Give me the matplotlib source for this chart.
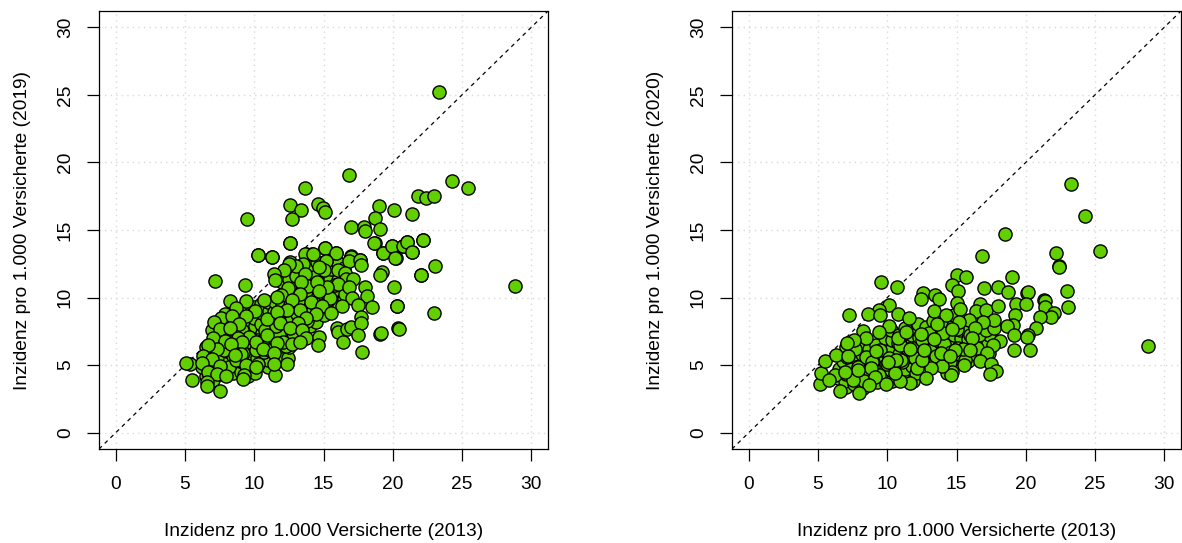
import matplotlib
matplotlib.use("Agg")
import matplotlib.pyplot as plt

plt.rcParams['font.family'] = ['Liberation Sans', 'DejaVu Sans']

tick_values = [0, 5, 10, 15, 20, 25, 30]
x_title = "Inzidenz pro 1.000 Versicherte (2013)"
y_title_left = "Inzidenz pro 1.000 Versicherte (2019)"
y_title_right = "Inzidenz pro 1.000 Versicherte (2020)"

# left panel: cloud
x13_a_cloud = [6.52,6.47,6.55,7.03,6.96,7.08,7.02,6.94,7.54,7.48,7.45,7.57,7.52,8.03,7.97,8.06,7.94,8.02,8.05,
 8.47,8.53,8.46,8.55,8.52,8.44,8.5,9.03,8.96,9.07,8.98,9.02,8.94,9.53,9.46,9.55,9.48,9.52,9.44,9.57,
 10.03,9.96,10.06,9.98,10.04,9.95,10.02,10.47,10.55,10.46,10.53,10.48,10.56,10.51,11.03,10.97,11.05,10.95,11.02,10.98,11.06,10.96,
 11.54,11.46,11.52,11.47,11.55,11.45,11.51,12.03,11.96,12.05,11.95,12.02,11.98,12.06,11.97,12.47,12.54,12.46,12.52,12.48,12.55,12.45,12.53,
 13.04,12.96,13.05,12.97,13.02,12.95,13.03,13.47,13.55,13.46,13.53,13.48,13.52,14.03,13.96,14.05,13.97,14.02,13.95,14.47,14.54,14.46,14.52,14.48,14.55,
 15.03,14.96,15.05,14.97,15.02,15.46,15.54,15.47,15.53,16.03,15.96,16.05,15.97,16.47,16.55,16.46,
 6.2,6.8,7.3,7.8,8.3,8.8,9.3,9.7,10.2,10.7,11.2,11.7,12.2,12.7,13.2,13.7,14.2,14.7,15.3,15.8,
 6.7,7.2,7.7,8.2,8.7,9.2,9.8,10.3,10.8,11.3,11.8,12.3,12.8,13.3,13.8,14.3,7.9,8.4,9.1,9.6,10.1,10.6,11.1,11.6,12.1,12.6,13.1]
y19_a_cloud = [4.21,5.63,6.34,3.92,4.73,5.38,6.62,7.57,4.33,5.17,5.94,6.88,7.31,4.62,5.34,6.03,6.47,7.24,8.16,
 4.42,5.04,5.71,6.33,6.97,7.62,8.12,4.53,5.28,6.34,7.27,8.04,8.93,4.22,4.84,5.47,6.23,6.92,7.64,8.31,
 4.41,5.83,6.32,7.18,7.93,8.47,9.34,5.22,5.74,6.62,7.38,8.03,8.83,9.52,4.83,5.37,6.24,7.02,7.72,8.28,9.03,9.71,
 5.34,6.03,6.81,7.53,8.27,8.92,9.64,5.62,6.41,7.12,7.94,8.73,9.42,10.23,11.18,5.53,6.32,7.04,8.21,8.93,9.47,10.32,11.41,
 6.92,7.43,8.62,9.21,10.03,10.82,11.63,7.12,8.04,8.93,9.62,10.58,11.22,7.93,8.62,9.31,10.22,11.04,12.02,8.23,9.12,9.93,10.71,11.62,12.63,
 8.72,9.43,10.31,11.02,12.32,9.14,10.42,11.37,12.12,9.63,10.62,11.33,12.61,9.92,10.23,12.22,
 4.9,5.0,5.6,6.1,6.7,6.1,5.1,5.9,5.5,6.0,6.6,7.1,7.6,8.5,7.7,8.3,8.9,9.6,9.8,10.9,
 4.5,4.4,4.8,4.9,5.4,5.9,6.7,6.9,7.6,6.6,7.3,6.4,7.4,7.9,8.3,9.6,8.8,7.9,7.6,7.1,6.1,6.9,6.1,7.9,6.7,8.2,8.8]

# left panel: visible points on the edge and on top
x13_a_top = [23.3,16.85,24.3,25.4,13.7,21.8,22.4,23.0,12.6,13.4,14.6,14.95,15.1,9.5,12.7,19.0,20.1,21.4,18.7,17.0,17.9,18.0,19.1,18.7,
 19.95,21.0,20.75,21.4,22.2,19.3,20.2,12.6,10.3,11.3,13.75,14.2,15.1,15.9,17.0,16.9,17.65,15.2,12.6,28.85,23.0,23.05,22.0,20.3,20.4,19.1,
 7.2,9.37,10.26,11.27,12.57,8.24,9.4,10.74,8.65,10.07,7.62,7.09,8.41,9.44,10.91,8.91,7.54,8.24,7.06,7.86,8.82,9.15,8.31,10.14,10.91,11.63,12.76,10.67,7.3,6.68,6.34,6.94,9.06,8.58,11.46,10.3,9.42,7.5,12.38,5.38,5.09,6.25,6.65,7.3,7.98,9.23,9.18,11.53,5.48,6.58,6.58,7.52,10.16,11.41,
 15.12,13.7,14.23,15.89,17.0,16.82,17.66,17.71,15.19,13.53,13.05,12.54,12.18,11.41,11.51,13.67,15.07,14.71,16.05,16.53,16.63,16.08,17.16,16.87,18.0,18.12,17.09,17.47,18.51,16.34,15.5,15.26,13.87,14.54,13.39,14.71,12.47,13.27,11.94,12.74,11.63,14.1,14.9,13.34,12.38,11.63,14.47,15.52,13.75,11.87,13.14,12.59,13.43,13.75,14.68,14.59,13.31,15.96,16.05,16.7,17.0,17.71,17.71,17.47,16.39,17.81,19.13,20.43,20.31,20.12,22.04,19.2,19.1,18.67,19.27,19.95,20.14,20.77,21.03,21.41,22.21]
y19_a_top = [25.2,19.1,18.6,18.1,18.1,17.5,17.4,17.5,16.85,16.5,16.9,16.6,16.3,15.8,15.8,16.8,16.5,16.2,15.9,15.25,15.25,14.95,15.1,14.05,
 13.8,14.1,13.85,13.4,14.25,13.3,12.9,14.05,13.15,13.0,13.2,13.2,13.65,13.3,13.05,12.8,12.8,12.7,12.6,10.85,8.85,12.35,11.7,9.4,7.75,7.3,
 11.25,10.9,13.15,13.0,14.04,9.75,9.78,9.83,9.2,9.04,8.47,8.23,8.65,8.65,8.42,8.03,7.68,7.73,7.0,6.8,7.0,6.75,6.6,6.75,7.2,6.65,6.6,6.18,6.2,6.5,5.69,5.44,5.86,5.76,5.89,5.12,5.0,4.95,5.07,5.1,5.15,5.15,4.53,4.33,4.2,4.31,3.97,4.31,3.92,3.77,3.47,3.08,4.88,5.1,
 13.67,13.23,13.23,13.28,13.03,12.73,12.78,12.41,12.73,12.46,12.36,12.49,12.04,11.75,11.3,11.75,12.07,12.24,12.04,11.8,11.38,10.99,11.35,10.81,10.76,10.12,9.95,9.46,9.29,9.38,10.0,10.81,10.86,11.18,11.18,10.52,10.74,10.27,10.2,9.83,10.07,9.66,9.38,9.06,9.06,8.97,8.77,8.84,8.47,8.13,8.13,7.78,7.61,7.04,7.09,6.53,6.7,7.73,7.44,7.71,7.86,8.55,8.15,7.22,6.68,5.99,7.36,7.71,9.38,10.76,11.7,11.87,11.67,14.01,13.28,13.84,12.91,13.84,14.09,13.4,14.26]

# right panel: cloud
x13_b_cloud = [6.47,6.54,7.03,6.96,7.05,6.97,7.02,7.57,7.64,7.55,7.62,8.23,8.16,8.24,8.17,8.22,8.73,8.66,8.74,8.67,9.23,9.16,9.24,9.17,9.22,
 9.83,9.76,9.84,9.77,9.82,10.33,10.26,10.34,10.27,10.32,10.25,10.83,10.76,10.84,10.77,10.82,11.33,11.26,11.34,11.27,11.32,11.25,11.83,11.76,11.84,11.77,11.82,
 12.33,12.26,12.34,12.27,12.32,12.25,12.83,12.76,12.84,12.77,12.82,13.33,13.26,13.34,13.27,13.32,13.83,13.76,13.84,13.77,13.82,14.33,14.26,14.34,14.27,14.32,14.25,
 14.83,14.76,14.84,14.77,14.82,15.33,15.26,15.34,15.27,15.83,15.76,15.84,15.77,16.33,16.26,16.34,16.27,16.83,16.76,16.84,16.77,17.33,17.26,17.34,17.27,
 6.2,6.8,7.3,7.9,8.5,9.0,9.5,10.0,10.6,11.1,11.6,12.1,12.6,13.1,13.6,14.1,14.6,15.1,15.6,16.1,16.6,17.1,
 7.1,7.7,8.3,8.9,9.4,10.1,10.5,11.0,11.5,12.0,12.5,13.0,13.5,14.0,14.5,15.0,15.5,16.0,16.5]
y20_b_cloud = [4.02,4.73,3.41,3.82,4.33,5.12,6.31,3.62,4.24,5.33,5.82,3.34,4.42,5.13,5.84,6.53,3.92,4.63,5.52,6.21,3.73,4.54,5.22,5.71,6.52,
 4.03,4.84,5.62,6.23,7.02,3.83,4.64,5.53,6.12,6.84,7.63,4.52,5.04,5.83,6.62,7.24,4.03,4.72,5.53,6.34,6.93,7.72,3.84,4.93,5.64,6.62,7.23,
 4.63,5.24,5.93,6.64,7.12,8.03,4.93,5.62,6.43,7.04,7.82,5.13,5.94,6.52,7.53,8.24,5.52,6.23,7.04,7.73,8.52,4.43,5.34,6.02,6.83,7.42,8.23,
 5.43,6.42,7.23,7.92,8.72,5.72,6.53,7.04,7.63,5.33,6.04,6.93,7.62,5.83,6.54,7.32,8.13,5.52,6.23,6.94,7.53,5.93,6.62,7.23,8.02,
 4.3,5.3,4.7,4.9,5.6,4.9,6.1,5.1,5.2,5.2,5.9,4.4,5.5,6.1,6.9,6.6,6.0,6.3,5.4,6.3,7.2,7.6,
 5.6,6.2,3.8,5.2,4.3,5.5,5.0,5.4,6.2,5.5,6.9,7.4,5.7,7.4,5.2,7.7,6.2,7.2,6.3]

# right panel: visible points on the edge and on top
x13_b_top = [28.84,23.29,24.3,25.38,22.2,22.42,18.53,16.87,20.1,21.3,9.55,10.72,15.07,15.65,19.02,22.43,17.0,18.03,18.75,14.64,15.12,20.17,22.96,23.01,12.57,13.42,13.75,12.43,10.1,9.38,7.21,8.63,9.45,10.75,11.54,13.37,14.21,15.0,15.27,16.66,16.42,17.14,18.0,19.3,20.03,21.4,21.4,22.05,21.85,21.04,19.21,19.11,18.63,19.16,20.75,20.17,20.12,19.16,20.31,18.15,17.67,17.72,16.88,15.92,15.2,14.69,16.37,16.13,17.65,16.0,17.21,14.86,16.68,17.5,17.86,17.43,15.51,14.67,14.62,13.97,13.18,12.77,11.61,10.92,9.93,10.53,12.12,12.5,10.6,10.05,8.8,9.09,8.66,7.96,6.61,7.55,5.17,5.22,5.48,5.8,6.32,7.17,7.91,6.93,9.18,10.94,11.66,12.62,13.37,12.41,13.56,10.77,10.12,9.38,8.27,8.44,7.6,7.09,11.37,13.9,14.5]
y20_b_top = [6.43,18.4,16.04,13.45,13.3,12.34,14.7,13.05,10.35,9.8,11.14,10.82,11.7,11.51,11.56,12.3,10.72,10.79,10.4,10.9,10.52,10.4,10.5,9.32,10.33,10.2,9.91,9.88,9.47,9.1,8.68,8.75,8.73,8.8,8.5,9.0,8.73,9.59,9.17,9.54,9.02,9.05,9.39,9.56,9.54,9.76,9.34,8.85,8.55,8.58,8.68,7.94,7.91,7.22,7.72,7.25,7.1,6.12,6.12,6.78,7.74,8.36,8.23,8.36,8.23,7.69,7.74,7.0,6.48,6.09,5.89,6.12,5.3,5.06,4.59,4.37,4.98,4.49,4.24,4.91,4.76,4.07,3.65,3.8,3.63,4.42,4.79,5.35,5.35,5.2,4.79,4.12,3.53,2.91,3.11,3.9,3.63,4.42,5.28,3.92,5.77,5.65,4.64,4.49,6.07,6.46,6.19,6.09,6.95,7.32,8.04,6.98,7.91,7.44,7.54,6.98,6.88,6.63,7.49,5.89,5.65]

W, H = 1182, 543
fig = plt.figure(figsize=(W / 100, H / 100), dpi=100, facecolor='white')


def panel(box, xs, ys, ylab):
    l, r, t, b = box
    ax = fig.add_axes([l / W, 1 - b / H, (r - l) / W, (b - t) / H])
    ax.set_xlim(-1.2, 31.2)
    ax.set_ylim(-1.2, 31.2)
    ax.set_xticks(tick_values)
    ax.set_yticks(tick_values)
    ax.grid(True, color='#d9d9d9', linestyle=(0, (1, 3)), linewidth=1.0, zorder=0)
    ax.set_axisbelow(True)
    ax.axline((0, 0), slope=1, color='black', linestyle=(0, (3.2, 3.2)), linewidth=0.9, zorder=1)
    ax.scatter(xs, ys, s=90, c='#62D000', edgecolors='black', linewidths=1.0, zorder=3, clip_on=True)
    ax.tick_params(axis='both', length=8.6, width=0.9, labelsize=13.8)
    ax.tick_params(axis='x', pad=11)
    ax.tick_params(axis='y', pad=9.5)
    for lab in ax.get_yticklabels():
        lab.set_rotation(90)
        lab.set_verticalalignment('center')
    for s in ax.spines.values():
        s.set_linewidth(0.9)
    ax.set_xlabel(x_title, fontsize=13.8, labelpad=21.5)
    ax.set_ylabel(ylab, fontsize=13.8, labelpad=18.5)
    return ax


panel((99, 548, 11, 449), x13_a_cloud + x13_a_top, y19_a_cloud + y19_a_top, y_title_left)
panel((732, 1181, 11, 449), x13_b_cloud + x13_b_top, y20_b_cloud + y20_b_top, y_title_right)

fig.savefig('out.png', dpi=100)
